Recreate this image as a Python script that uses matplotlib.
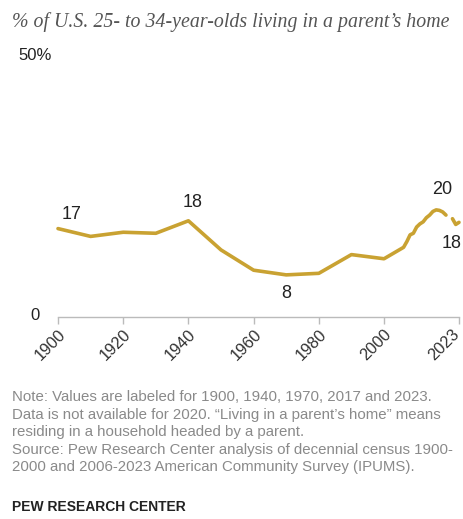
import matplotlib
matplotlib.use("Agg")
import matplotlib.pyplot as plt
import matplotlib.transforms as mtransforms
import numpy as np

years = [1900, 1910, 1920, 1930, 1940, 1950, 1960, 1970, 1980, 1990, 2000,
         2006, 2007, 2008, 2009, 2010, 2011, 2012, 2013, 2014, 2015, 2016, 2017, 2018, 2019]
values = [17.0, 15.5, 16.3, 16.1, 18.5, 12.9, 9.0, 8.1, 8.4, 12.0, 11.2,
          13.4, 14.5, 15.8, 16.1, 17.3, 17.9, 18.3, 19.1, 19.6, 20.3, 20.6, 20.5, 20.2, 19.6]
years2 = [2021, 2022, 2023]
values2 = [18.9, 17.8, 18.2]
tick_years = [1900, 1920, 1940, 1960, 1980, 2000, 2023]
labels = [(1900, "17"), (1940, "18"), (1970, "8"), (2017, "20"), (2023, "18")]

W, H = 464, 519
fig = plt.figure(figsize=(W/100, H/100), dpi=100)
fig.patch.set_facecolor("white")

def fx(px): return px / W
def fy(py): return 1 - py / H

ax = fig.add_axes([fx(58), fy(317), fx(459) - fx(58), fy(57) - fy(317)])
ax.set_xlim(1900, 2023)
ax.set_ylim(0, 50)
color = "#C9A232"
ax.plot(years, values, color=color, lw=2.6, solid_capstyle="round", solid_joinstyle="round", clip_on=False)
ax.plot(years2, values2, color=color, lw=2.6, solid_capstyle="round", solid_joinstyle="round", clip_on=False)

for s in ["top", "right", "left"]:
    ax.spines[s].set_visible(False)
ax.spines["bottom"].set_color("#bbbbbb")
ax.spines["bottom"].set_linewidth(1.0)
ax.set_yticks([])
ax.set_xticks(tick_years)
ax.tick_params(axis="x", length=5, color="#bbbbbb", width=1.0, pad=2, labelsize=11.8, labelcolor="#333333")
ax.set_xticklabels([str(y) for y in tick_years], rotation=45, ha="right", rotation_mode="anchor",
                   family="Liberation Sans")
last = ax.get_xticklabels()[-1]
last.set_transform(last.get_transform() + mtransforms.ScaledTranslation(-7/100, 0, fig.dpi_scale_trans))

txt = dict(family="Liberation Sans", fontsize=13, color="#222222")
offsets = {1900: (10, 4), 1940: (3, 7), 1970: (0, -7), 2017: (2, 9), 2023: (-5, -9)}
allv = dict(zip(years + years2, values + values2))
for yr, lab in labels:
    dx, dy = offsets[yr]
    va = "bottom" if dy > 0 else "top"
    ax.annotate(lab, (yr, allv[yr]), xytext=(dx, dy), textcoords="offset points",
                ha="center", va=va, annotation_clip=False, **txt)

fig.text(fx(18), fy(55), "50%", ha="left", va="center", family="Liberation Sans", fontsize=12, color="#222222")
fig.text(fx(40), fy(316), "0", ha="right", va="center", family="Liberation Sans", fontsize=12, color="#222222")

fig.text(fx(12), fy(22), "% of U.S. 25- to 34-year-olds living in a parent\u2019s home",
         family="Liberation Serif", style="italic", fontsize=14.3, color="#555555", ha="left", va="center")

notes = ["Note: Values are labeled for 1900, 1940, 1970, 2017 and 2023.",
         "Data is not available for 2020. \u201cLiving in a parent\u2019s home\u201d means",
         "residing in a household headed by a parent.",
         "Source: Pew Research Center analysis of decennial census 1900-",
         "2000 and 2006-2023 American Community Survey (IPUMS)."]
for i, line in enumerate(notes):
    fig.text(fx(12), fy(397 + i * 17.6), line, family="Liberation Sans", fontsize=10.8,
             color="#8a8a8a", ha="left", va="center")
fig.text(fx(12), fy(507), "PEW RESEARCH CENTER", family="Liberation Sans", fontsize=10,
         weight="bold", color="#222222", ha="left", va="center")

fig.savefig("out.png", dpi=100, facecolor="white")
